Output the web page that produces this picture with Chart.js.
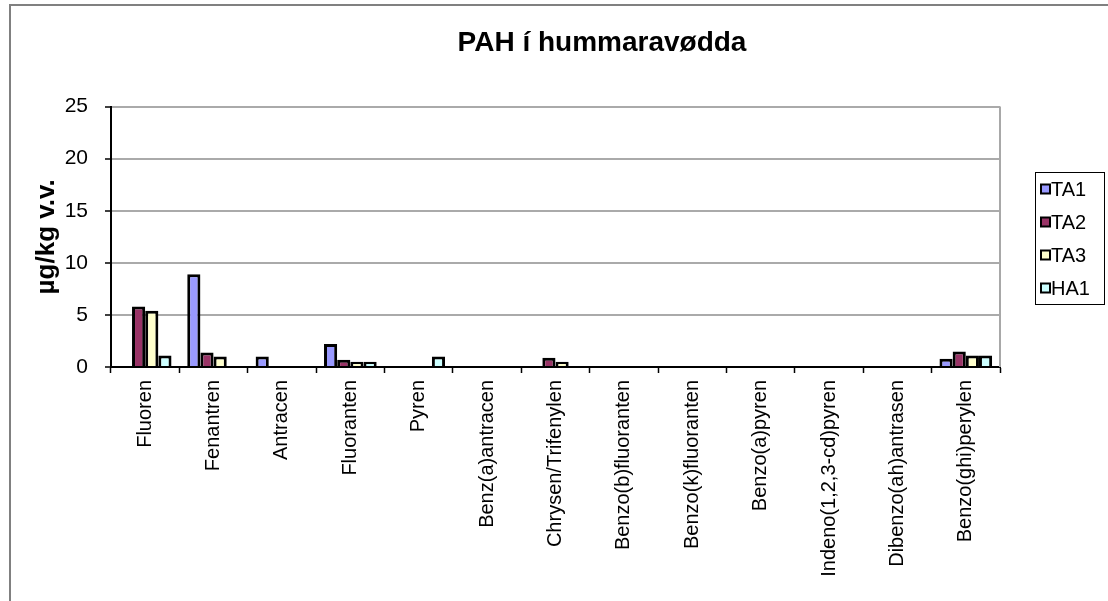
<!DOCTYPE html>
<html>
<head>
<meta charset="utf-8">
<title>PAH í hummaravødda</title>
<script src="https://cdn.jsdelivr.net/npm/chart.js@4/dist/chart.umd.min.js"></script>
<style>
  html, body { margin: 0; padding: 0; background: #ffffff; overflow: hidden; }
  #wrap { position: absolute; left: 0; top: 0; width: 1210px; height: 650px; }
</style>
</head>
<body>
<div id="wrap"><canvas id="chart" width="1210" height="650"></canvas></div>
<script>
// PAH compounds measured (µg/kg wet weight)
const categories = [
  'Fluoren', 'Fenantren', 'Antracen', 'Fluoranten', 'Pyren',
  'Benz(a)antracen', 'Chrysen/Trifenylen', 'Benzo(b)fluoranten',
  'Benzo(k)fluoranten', 'Benzo(a)pyren', 'Indeno(1,2,3-cd)pyren',
  'Dibenzo(ah)antrasen', 'Benzo(ghi)perylen'
];
const seriesNames = ['TA1', 'TA2', 'TA3', 'HA1'];
const TA1 = [0, 8.9, 1.0, 2.2, 0, 0, 0, 0, 0, 0, 0, 0, 0.8];
const TA2 = [5.8, 1.4, 0, 0.7, 0, 0, 0.9, 0, 0, 0, 0, 0, 1.5];
const TA3 = [5.4, 1.0, 0, 0.5, 0, 0, 0.5, 0, 0, 0, 0, 0, 1.1];
const HA1 = [1.1, 0, 0, 0.5, 1.0, 0, 0, 0, 0, 0, 0, 0, 1.1];
const yTicks = [0, 5, 10, 15, 20, 25];

const seriesValues = [TA1, TA2, TA3, HA1];
const seriesColors = ['#9999FF', '#993366', '#FFFFCC', '#CCFFFF'];
const FONT = 'Arial, "Liberation Sans", sans-serif';

// outer frame of the chart object
const framePlugin = {
  id: 'frame',
  beforeDraw(chart) {
    const ctx = chart.ctx;
    ctx.save();
    ctx.fillStyle = '#ffffff';
    ctx.fillRect(0, 0, chart.width, chart.height);
    ctx.strokeStyle = '#808080';
    ctx.lineWidth = 2;
    ctx.strokeRect(10, 5, chart.width + 50, chart.height + 50);
    ctx.restore();
  }
};

// grey right edge of the plot area
const plotEdgePlugin = {
  id: 'plotEdge',
  beforeDatasetsDraw(chart) {
    const a = chart.chartArea, ctx = chart.ctx;
    ctx.save();
    ctx.strokeStyle = '#a8a8a8';
    ctx.lineWidth = 2;
    ctx.beginPath();
    ctx.moveTo(a.right, a.top);
    ctx.lineTo(a.right, a.bottom);
    ctx.stroke();
    ctx.restore();
  }
};

// boxed legend to the right of the plot
const boxLegendPlugin = {
  id: 'boxLegend',
  afterDraw(chart) {
    const ctx = chart.ctx;
    const x0 = 1035, y0 = 172, w = 69, h = 132;
    ctx.save();
    ctx.fillStyle = '#ffffff';
    ctx.fillRect(x0, y0, w, h);
    ctx.strokeStyle = '#000000';
    ctx.lineWidth = 1;
    ctx.strokeRect(x0 + 0.5, y0 + 0.5, w, h);
    ctx.font = '20px ' + FONT;
    ctx.textBaseline = 'middle';
    ctx.textAlign = 'left';
    chart.data.datasets.forEach((ds, i) => {
      const cy = y0 + 17 + i * 33;
      ctx.fillStyle = ds.backgroundColor;
      ctx.fillRect(x0 + 6, cy - 4.5, 9, 9);
      ctx.strokeStyle = '#000000';
      ctx.lineWidth = 2;
      ctx.strokeRect(x0 + 6, cy - 4.5, 9, 9);
      ctx.fillStyle = '#000000';
      ctx.fillText(ds.label, x0 + 16, cy + 1);
    });
    ctx.restore();
  }
};

new Chart(document.getElementById('chart'), {
  type: 'bar',
  data: {
    labels: categories,
    datasets: seriesNames.map((name, i) => ({
      label: name,
      data: seriesValues[i],
      backgroundColor: seriesColors[i],
      borderColor: '#000000',
      borderWidth: 3,
      categoryPercentage: 0.77,
      barPercentage: 1.0
    }))
  },
  options: {
    responsive: false,
    animation: false,
    layout: { padding: { left: 11, right: 17, top: 0, bottom: 50 } },
    plugins: {
      legend: { display: false },
      tooltip: { enabled: false },
      title: {
        display: true,
        text: 'PAH í hummaravødda',
        color: '#000000',
        font: { family: FONT, size: 28, weight: 'bold' },
        padding: { top: 26, bottom: 47 }
      }
    },
    scales: {
      x: {
        z: 1,
        grid: {
          display: true,
          offset: true,
          drawOnChartArea: false,
          tickLength: 6,
          tickColor: '#000000',
          tickWidth: 1.5
        },
        border: { display: true, color: '#000000', width: 2 },
        ticks: {
          color: '#000000',
          font: { family: FONT, size: 20 },
          minRotation: 90,
          maxRotation: 90,
          padding: 7,
          autoSkip: false
        },
        afterFit(scale) { scale.height = 233; }
      },
      y: {
        min: 0,
        max: 25,
        afterBuildTicks(scale) { scale.ticks = yTicks.map(v => ({ value: v })); },
        grid: {
          color: '#aaaaaa',
          lineWidth: 2,
          tickLength: 6,
          tickColor: '#000000',
          tickWidth: 1.5
        },
        border: { display: true, color: '#000000', width: 2 },
        ticks: {
          color: '#000000',
          font: { family: FONT, size: 21 },
          padding: 17
        },
        title: {
          display: true,
          text: 'µg/kg v.v.',
          color: '#000000',
          font: { family: FONT, size: 26, weight: 'bold' },
          padding: { top: 20, bottom: 0 }
        },
        afterFit(scale) { scale.width = 100; }
      },
      // empty right-hand band reserved for the legend
      legendSpace: {
        axis: 'y',
        position: 'right',
        display: true,
        grid: { display: false },
        border: { display: false },
        ticks: { display: false },
        afterFit(scale) { scale.width = 193; }
      }
    }
  },
  plugins: [framePlugin, plotEdgePlugin, boxLegendPlugin]
});
</script>
</body>
</html>
